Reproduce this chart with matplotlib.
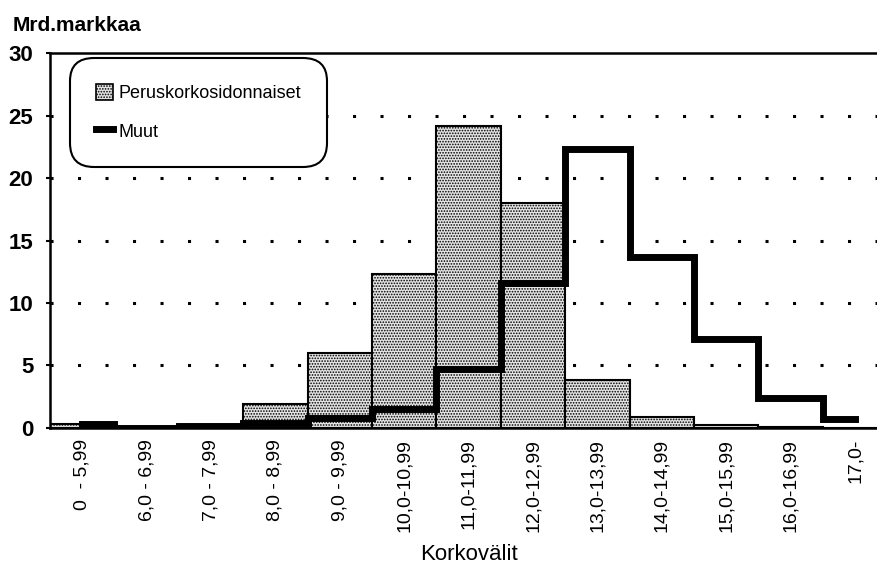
import numpy as np
import matplotlib
matplotlib.use("Agg")
import matplotlib.pyplot as plt
from matplotlib.patches import Patch
from matplotlib.lines import Line2D

plt.rcParams['font.family'] = ['Liberation Sans', 'DejaVu Sans']
plt.rcParams['hatch.color'] = '#555555'
plt.rcParams['hatch.linewidth'] = 0.8

# korkovälit
kategoriat = ["0  - 5,99", "6,0 - 6,99", "7,0 - 7,99", "8,0 - 8,99", "9,0 - 9,99",
              "10,0-10,99", "11,0-11,99", "12,0-12,99", "13,0-13,99", "14,0-14,99",
              "15,0-15,99", "16,0-16,99", "17,0-"]
peruskorko = [0.3, 0.05, 0.1, 1.9, 6.0, 12.3, 24.2, 18.0, 3.8, 0.9, 0.2, 0.05, 0.0]
muut = [0.3, 0.0, 0.15, 0.4, 0.8, 1.5, 4.7, 11.6, 22.3, 13.7, 7.1, 2.4, 0.7]

fig = plt.figure(figsize=(8.77, 5.75), dpi=100)
ax = fig.add_axes([0.057, 0.2557, 0.943, 0.652])

x = np.arange(len(kategoriat))
ax.bar(x, peruskorko, width=1.0, facecolor='#e4e4e4', edgecolor='black',
       linewidth=1.5, hatch='......', zorder=2)

# Muut: porraskäyrä luokkien keskikohdasta keskikohtaan
xs = np.r_[0, np.arange(0.5, len(kategoriat) - 1), len(kategoriat) - 1]
ys = np.r_[muut, muut[-1]]
ax.step(xs, ys, where='post', color='black', linewidth=5, zorder=3,
        solid_joinstyle='miter')

ax.set_xlim(-0.5, 12.34)
ax.set_ylim(0, 30)
ax.set_yticks([0, 5, 10, 15, 20, 25, 30])
ax.set_yticklabels(["0", "5", "10", "15", "20", "25", "30"],
                   fontsize=16, fontweight='bold')
ax.set_xticks(x)
ax.set_xticklabels(kategoriat, rotation=90, fontsize=14)
ax.tick_params(axis='x', length=0, pad=8)
ax.tick_params(axis='y', length=3, width=1.5, pad=9)

for y in [5, 10, 15, 20, 25]:
    ax.axhline(y, color='black', linestyle=(0, (1, 8)), linewidth=2.2, zorder=1)

for s in ['left', 'bottom', 'top']:
    ax.spines[s].set_linewidth(1.8)
ax.spines['right'].set_visible(False)

fig.text(0.014, 0.955, "Mrd.markkaa", fontsize=15, fontweight='bold', va='center')
fig.text(0.535, 0.035, "Korkovälit", fontsize=16, ha='center', va='center')

handles = [Patch(facecolor='#e4e4e4', edgecolor='black', hatch='......', linewidth=1.2),
           Line2D([0], [0], color='black', linewidth=5)]
leg = ax.legend(handles, ["Peruskorkosidonnaiset", "Muut"], loc='upper left',
                bbox_to_anchor=(0.03, 0.975),
                prop={'size': 13},
                handlelength=0.9, handleheight=1.0, handletextpad=0.3,
                borderpad=1.2, labelspacing=1.1, fancybox=True, framealpha=1,
                edgecolor='black', borderaxespad=0)
leg.get_frame().set_linewidth(1.5)
leg.get_frame().set_boxstyle('round,pad=0.25,rounding_size=1.3')

fig.savefig("out.png", dpi=100)
